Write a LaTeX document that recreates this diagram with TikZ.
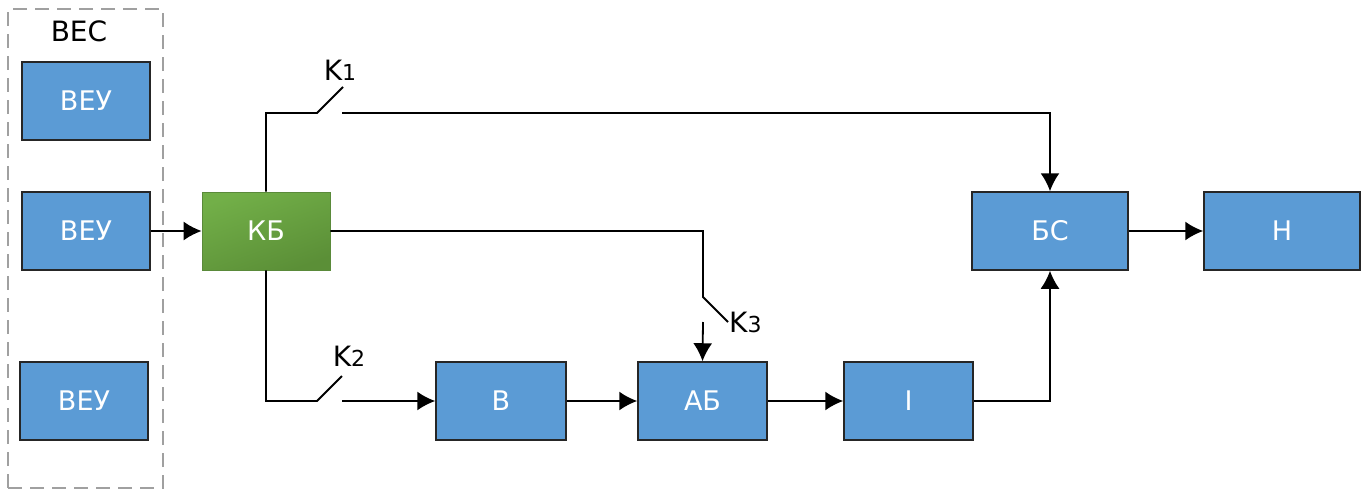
\documentclass[tikz,border=0pt]{standalone}
\usepackage{fontspec}
\setmainfont{DejaVu Sans}
\usetikzlibrary{arrows.meta}
\definecolor{boxblue}{HTML}{5B9BD5}
\definecolor{gA}{HTML}{72AF48}
\definecolor{gB}{HTML}{5B8F37}
\definecolor{gE}{HTML}{5A8A3A}
\definecolor{dashgray}{HTML}{A0A0A0}
\tikzset{
  blk/.style={draw=black!85, line width=1.5pt, fill=boxblue, text=white,
    minimum width=#1, minimum height=78pt, inner sep=0pt,
    font=\fontsize{27}{30}\selectfont},
  blk/.default=128pt,
  gblk/.style={draw=gE, line width=0.8pt, shading=axis, top color=gA, bottom color=gB, shading angle=20,
    text=white, minimum width=128pt, minimum height=78pt, inner sep=0pt,
    font=\fontsize{27}{30}\selectfont},
  wire/.style={line width=1.8pt, black},
  arr/.style={wire, arrows={-Latex[length=18pt,width=19pt]}},
  lbl/.style={font=\fontsize{28}{30}\selectfont, inner sep=0pt},
}
\newcommand{\ksub}[1]{K{\fontsize{22}{24}\selectfont #1}}
\begin{document}
\begin{tikzpicture}[x=1pt,y=-1pt]
\useasboundingbox (0,0) rectangle (1366,490);
% group frame
\node[draw=dashgray, line width=1.7pt, dash pattern=on 14pt off 8pt, minimum width=155pt, minimum height=479pt, inner sep=0pt] (ves) at (85.5,248.5) {};
\node[lbl] (veslbl) at (79,31) {ВЕС};
\node[blk] (veu1) at (86,101) {ВЕУ};
\node[blk] (veu2) at (86,231) {ВЕУ};
\node[blk] (veu3) at (84,401) {ВЕУ};
\node[gblk] (kb) at (266,231) {КБ};
\node[blk=130pt] (b) at (501,401) {В};
\node[blk=129pt] (ab) at (702.5,401) {АБ};
\node[blk=129pt] (i) at (908.5,401) {I};
\node[blk=156pt] (bs) at (1050,231) {БС};
\node[blk=156pt] (h) at (1282,231) {Н};
% switch coordinates
\coordinate (s1a) at (317,113);
\coordinate (s1b) at (343,87);
\coordinate (s1c) at (342,113);
\coordinate (s2a) at (317,401);
\coordinate (s2b) at (342,376);
\coordinate (s2c) at (342,401);
\coordinate (s3a) at (703,297);
\coordinate (s3b) at (728,322);
\coordinate (s3c) at (703,322);
\node[lbl, anchor=base] (k1) at (340,80) {\ksub{1}};
\node[lbl, anchor=base] (k2) at (349,366) {\ksub{2}};
\node[lbl, anchor=base west] (k3) at (729,332) {\ksub{3}};
% connectors
\draw[arr] (veu2.east) -- (kb.west);
\draw[wire] (kb.north) |- (s1a) -- (s1b);
\draw[arr] (s1c) -| (bs.north);
\draw[wire] (kb.south) |- (s2a) -- (s2b);
\draw[arr] (s2c) -- (b.west);
\draw[wire] (kb.east) -| (s3a) -- (s3b);
\draw[arr] (s3c) -- (ab.north);
\draw[arr] (b.east) -- (ab.west);
\draw[arr] (ab.east) -- (i.west);
\draw[arr] (i.east) -| (bs.south);
\draw[arr] (bs.east) -- (h.west);
\end{tikzpicture}
\end{document}
